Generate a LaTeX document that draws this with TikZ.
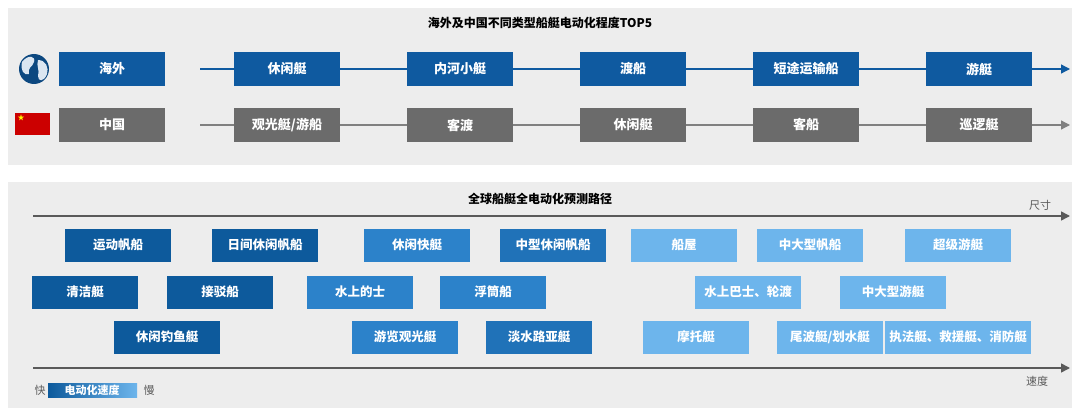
\documentclass[tikz,border=0pt]{standalone}
\usepackage{fontspec}
\setmainfont{Noto Sans CJK SC}
\usetikzlibrary{arrows.meta,calc}
\definecolor{panelgray}{HTML}{EDEDED}
\definecolor{boxblue}{HTML}{0F5AA0}
\definecolor{boxgray}{HTML}{6B6B6B}
\definecolor{darkblue}{HTML}{0D5A9C}
\definecolor{midblue}{HTML}{2C82CA}
\definecolor{lightblue}{HTML}{6DB5EC}
\definecolor{axisgray}{HTML}{5A5A5A}
\tikzset{
  tag/.style={minimum width=106pt, minimum height=34pt, inner sep=0pt, text=white,
    font=\fontsize{13}{13}\selectfont\bfseries},
  tagblue/.style={tag, fill=boxblue},
  taggray/.style={tag, fill=boxgray},
  ptag/.style={tag, minimum height=33pt, font=\fontsize{12.5}{13}\selectfont\bfseries},
  dk/.style={ptag, fill=darkblue},
  md/.style={ptag, fill=midblue},
  lt/.style={ptag, fill=lightblue},
  axis/.style={line width=1.6pt, -{Triangle[length=9pt,width=9pt]}},
}
\begin{document}
\begin{tikzpicture}[x=1pt,y=-1pt]
  \useasboundingbox (0,0) rectangle (1080,412);
  \fill[white] (0,0) rectangle (1080,412);
  % panels
  \fill[panelgray] (8,8) rectangle (1072,165);
  \fill[panelgray] (8,182) rectangle (1072,408);
  \node (title1) at (540,23) {\fontsize{12}{12}\selectfont\bfseries 海外及中国不同类型船艇电动化程度TOP5};
  \node (title2) at (540,199) {\fontsize{12}{12}\selectfont\bfseries 全球船艇全电动化预测路径};
  % top rows
  \coordinate (s1) at (200,69);
  \coordinate (e1) at (1070,69);
  \coordinate (s2) at (200,125);
  \coordinate (e2) at (1070,125);
  \draw[axis, boxblue, line width=1.3pt] (s1) -- (e1);
  \draw[axis, gray, line width=1.3pt] (s2) -- (e2);
  \node[tagblue] (os) at (112,69) {海外};
  \node[taggray] (cn) at (112,125) {中国};
  \foreach \x/\t [count=\i] in {287/休闲艇,460/内河小艇,633/渡船,806/短途运输船,979/游艇}
    \node[tagblue] (o\i) at (\x,69) {\t};
  \foreach \x/\t [count=\i] in {287/{观光艇/游船},460/客渡,633/休闲艇,806/客船,979/巡逻艇}
    \node[taggray] (c\i) at (\x,125) {\t};
  % globe
  \fill[boxblue!80!black] (34,69) circle (15pt);
  \fill[white!85!boxblue] (22,62) .. controls (28,54) and (36,56) .. (34,62) .. controls (32,68) and (28,66) .. (29,74) .. controls (24,76) and (20,70) .. (22,62);
  \fill[white!85!boxblue] (38,60) .. controls (46,60) and (49,68) .. (47,74) .. controls (44,82) and (38,82) .. (38,76) .. controls (40,70) and (36,66) .. (38,60);
  % flag
  \fill[red!80!black] (15,113) rectangle (50,135);
  \node[text=yellow, inner sep=0pt, font=\fontsize{7}{7}\selectfont] (star) at (21,118) {★};
  % bottom axes
  \coordinate (a1) at (33,216);
  \coordinate (b1) at (1070,216);
  \coordinate (a2) at (33,368);
  \coordinate (b2) at (1070,368);
  \draw[axis, axisgray] (a1) -- (b1);
  \draw[axis, axisgray] (a2) -- (b2);
  \node[text=axisgray, font=\fontsize{11}{11}\selectfont] (size) at (1040,205) {尺寸};
  \node[text=axisgray, font=\fontsize{11}{11}\selectfont] (speed) at (1037,381) {速度};
  % row A
  \node[dk] (r11) at (118,245) {运动帆船};
  \node[dk] (r12) at (265,245) {日间休闲帆船};
  \node[md] (r13) at (417,245) {休闲快艇};
  \node[md, fill=darkblue!40!midblue] (r14) at (553,245) {中型休闲帆船};
  \node[lt] (r15) at (684,245) {船屋};
  \node[lt] (r16) at (810,245) {中大型帆船};
  \node[lt] (r17) at (958,245) {超级游艇};
  % row B
  \node[dk] (r21) at (85,292) {清洁艇};
  \node[dk] (r22) at (220,292) {接驳船};
  \node[md] (r23) at (360,292) {水上的士};
  \node[md] (r24) at (493,292) {浮筒船};
  \node[lt] (r25) at (748,292) {水上巴士、轮渡};
  \node[lt] (r26) at (893,292) {中大型游艇};
  % row C
  \node[dk] (r31) at (167,337) {休闲钓鱼艇};
  \node[md] (r32) at (405,337) {游览观光艇};
  \node[md, fill=darkblue!40!midblue] (r33) at (539,337) {淡水路亚艇};
  \node[lt] (r34) at (696,337) {摩托艇};
  \node[lt] (r35) at (830,337) {尾波艇/划水艇};
  \node[lt, minimum width=146pt] (r36) at (958,337) {执法艇、救援艇、消防艇};
  % legend
  \node[text=axisgray, font=\fontsize{11}{11}\selectfont] (fast) at (40,390) {快};
  \shade[left color=darkblue, right color=lightblue] (48,383) rectangle (137,397);
  \node[text=white, font=\fontsize{11}{11}\selectfont\bfseries] (legend) at (92,390) {电动化速度};
  \node[text=axisgray, font=\fontsize{11}{11}\selectfont] (slow) at (149,390) {慢};
\end{tikzpicture}
\end{document}
